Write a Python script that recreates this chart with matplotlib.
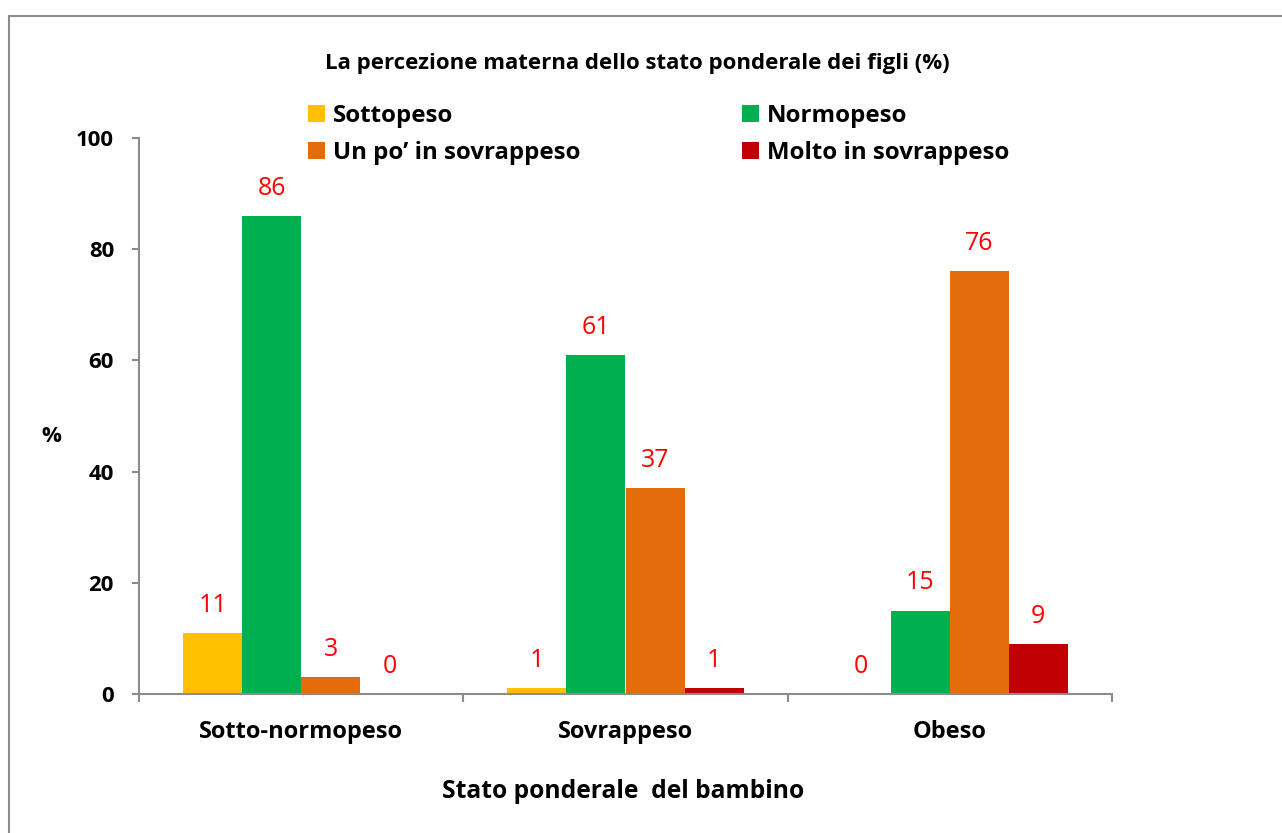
import numpy as np
import matplotlib
matplotlib.use("Agg")
import matplotlib.pyplot as plt
from matplotlib.patches import Rectangle

categories = ["Sotto-normopeso", "Sovrappeso", "Obeso"]
series = ["Sottopeso", "Normopeso", "Un po\u2019 in sovrappeso", "Molto in sovrappeso"]
values = {
    "Sottopeso": [11, 1, 0],
    "Normopeso": [86, 61, 15],
    "Un po\u2019 in sovrappeso": [3, 37, 76],
    "Molto in sovrappeso": [0, 1, 9],
}
colors = ["#FFC000", "#00B050", "#E46C0A", "#C00000"]
yticks = [0, 20, 40, 60, 80, 100]

plt.rcParams["font.family"] = ["Open Sans", "DejaVu Sans"]

W, H = 1282, 833
fig = plt.figure(figsize=(W / 100, H / 100), dpi=100)
fig.patches.append(Rectangle((9 / W, -0.1), 1.2, 1 - 16 / H + 0.1, transform=fig.transFigure,
                             fill=False, edgecolor="#8c8c8c", lw=1.5, zorder=0))

ax = fig.add_axes([139 / W, 1 - 694 / H, (1112 - 139) / W, (694 - 138) / H])
x = np.arange(len(categories))
bw = 0.182
gray = "#8c8c8c"
handles = []
for i, (name, col) in enumerate(zip(series, colors)):
    pos = x + (i - 1.5) * bw
    vals = values[name]
    handles.append(ax.bar(pos, vals, width=bw, color=col, label=name, zorder=2))
    for px, v in zip(pos, vals):
        ax.annotate(str(v), (px, v), xytext=(0, 20), textcoords="offset points",
                    ha="center", va="center", color="#FF0000", fontsize=18)

ax.set_xlim(-0.5, len(categories) - 0.5)
ax.set_ylim(0, 100)
ax.set_yticks(yticks)
ax.set_yticklabels([str(t) for t in yticks], fontsize=16, fontweight="bold")
ax.set_xticks(x)
ax.set_xticklabels(categories, fontsize=17, fontweight="bold")
ax.tick_params(axis="x", length=0, pad=19)
ax.set_xticks(np.arange(len(categories) + 1) - 0.5, minor=True)
ax.tick_params(axis="x", which="minor", length=6, color=gray, width=1.5)
ax.tick_params(axis="y", length=5, color=gray, width=1.5, pad=13)
for s in ["top", "right"]:
    ax.spines[s].set_visible(False)
for s in ["left", "bottom"]:
    ax.spines[s].set_color(gray)
    ax.spines[s].set_linewidth(1.5)

fig.text(51 / W, 1 - 437 / H, "%", fontsize=16, fontweight="bold", ha="center", va="center")
fig.text(623 / W, 1 - 791 / H, "Stato ponderale  del bambino", fontsize=17.7, fontweight="bold",
         ha="center", va="center")
fig.text(637 / W, 1 - 63 / H, "La percezione materna dello stato ponderale dei figli (%)",
         fontsize=16, fontweight="bold", ha="center", va="center")

order = [0, 2, 1, 3]
ax.legend([handles[k] for k in order], [series[k] for k in order],
          loc="upper left", bbox_to_anchor=(308 / W, 1 - 104 / H), bbox_transform=fig.transFigure,
          ncol=2, frameon=False, prop={"size": 17.3, "weight": "bold"}, handlelength=0.7,
          handleheight=0.7, handletextpad=0.35, columnspacing=6.7, labelspacing=0.55,
          borderpad=0, borderaxespad=0)

fig.savefig("out.png", dpi=100, facecolor="white")
